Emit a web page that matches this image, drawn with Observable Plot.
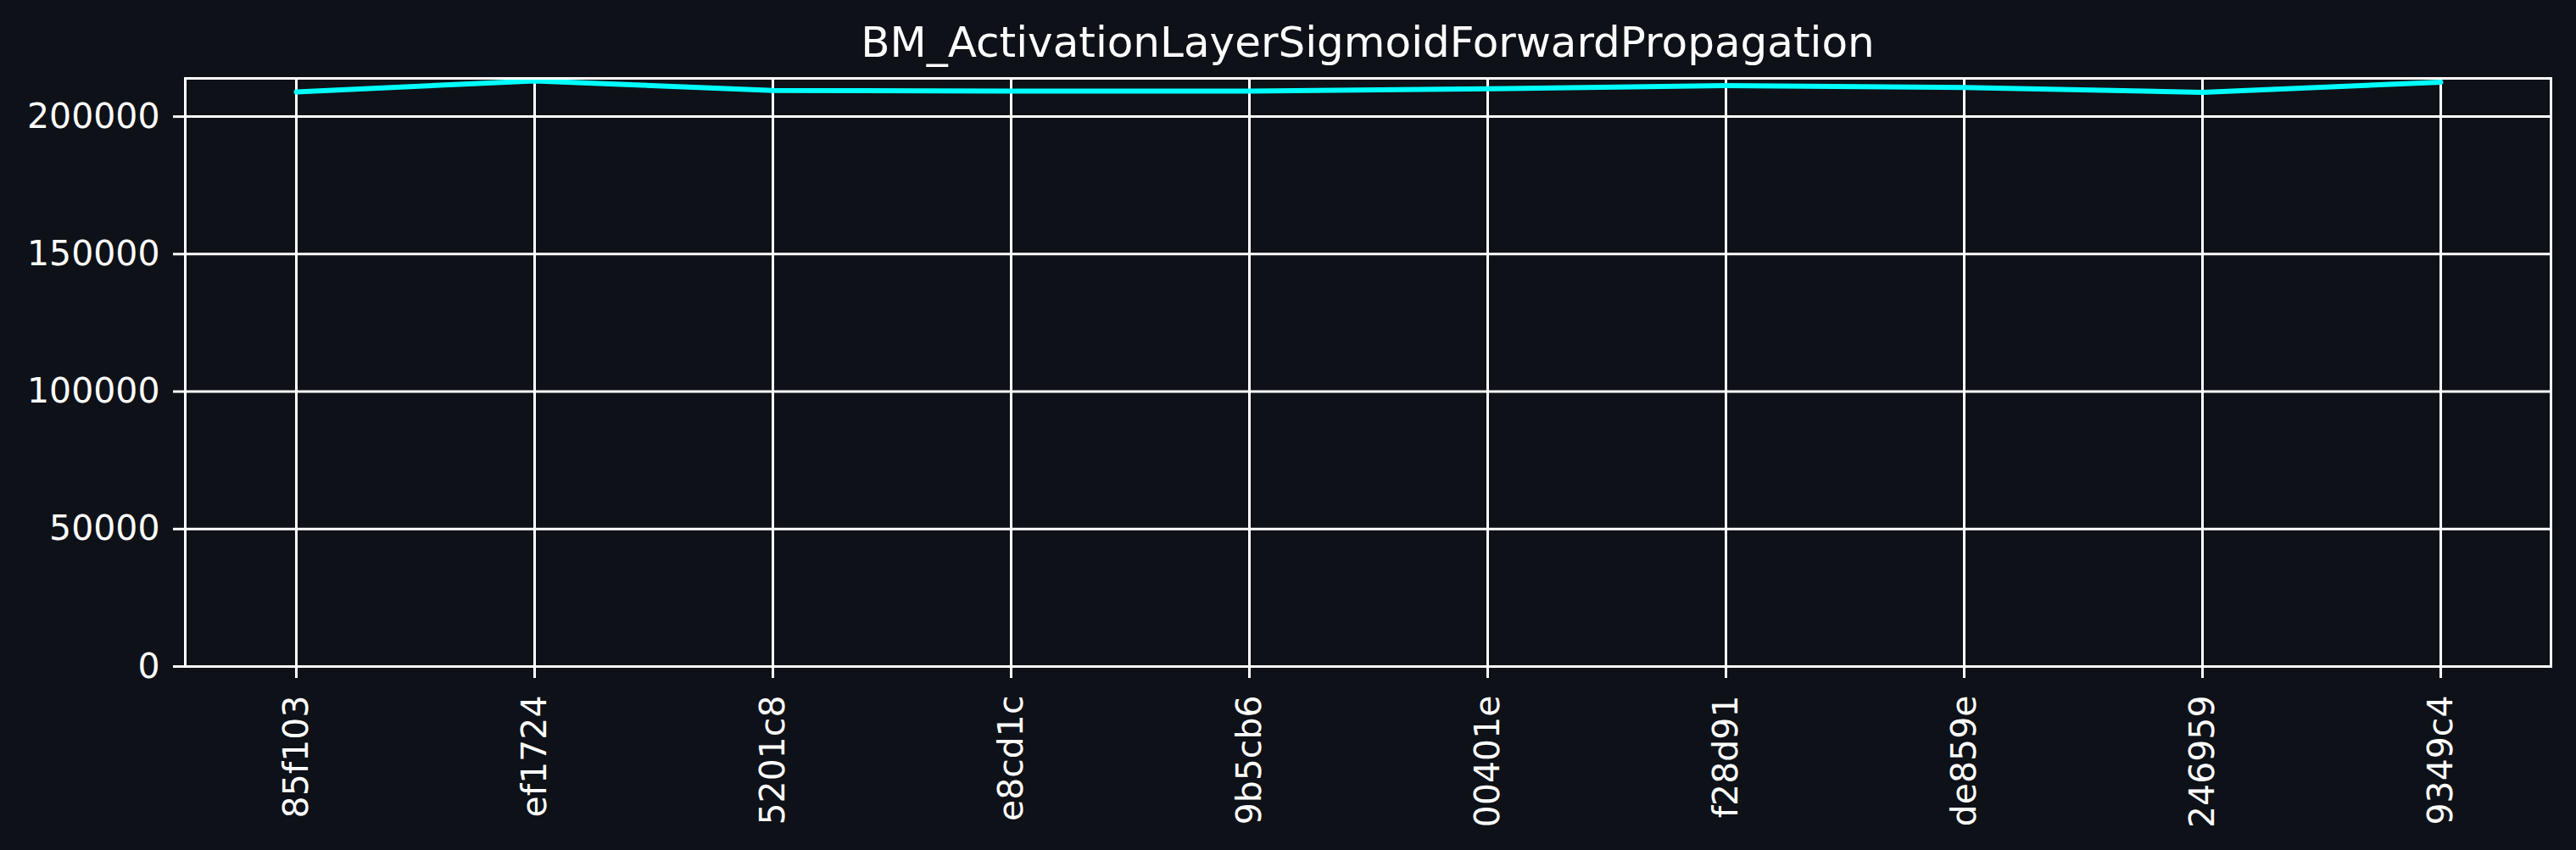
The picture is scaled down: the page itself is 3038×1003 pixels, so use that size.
<!DOCTYPE html>
<html><head><meta charset="utf-8">
<script src="https://cdn.jsdelivr.net/npm/d3@7"></script>
<script src="https://cdn.jsdelivr.net/npm/@observablehq/plot@0.6"></script>
<style>
html,body{margin:0;padding:0;background:#0e1117;}
#title{box-sizing:border-box;width:3038px;height:80px;padding:20px 30px 0 218px;text-align:center;font-family:"DejaVu Sans";font-size:50px;line-height:60px;color:#fff;white-space:nowrap;}
#chart svg{display:block;}
</style></head><body>
<div id="title">BM_ActivationLayerSigmoidForwardPropagation</div>
<div id="chart"></div>
<script>
const commits = ["85f103","ef1724","5201c8","e8cd1c","9b5cb6","00401e","f28d91","de859e","246959","9349c4"];
const values = [209000,213000,209500,209300,209250,210100,211300,210600,208850,212550];
const yTicks = [0,50000,100000,150000,200000];
const data = commits.map((c,i)=>({commit:c, value:values[i]}));
const chart = Plot.plot({
  width:3038, height:923, marginTop:12, marginBottom:217, marginLeft:218, marginRight:30,
  style:{background:"#0e1117", color:"#fff", fontFamily:"DejaVu Sans", fontSize:"41px"},
  x:{type:"point", domain:commits, padding:0.45, label:null},
  y:{domain:[0,213900], label:null},
  marks:[
    Plot.gridX(commits,{stroke:"#fff", strokeOpacity:1, strokeWidth:3}),
    Plot.gridY(yTicks,{stroke:"#fff", strokeOpacity:1, strokeWidth:3}),
    Plot.line(data,{x:"commit", y:"value", stroke:"#00ffff", strokeWidth:6}),
    Plot.frame({stroke:"#fff", strokeWidth:3}),
    Plot.axisX({tickRotate:-90, tickSize:14, tickPadding:20, stroke:"#fff", strokeWidth:3, label:null}),
    Plot.axisY(yTicks,{tickSize:14, tickPadding:16, tickFormat:d=>String(d), stroke:"#fff", strokeWidth:3, label:null})
  ]
});
document.getElementById("chart").appendChild(chart);
</script>
</body></html>
